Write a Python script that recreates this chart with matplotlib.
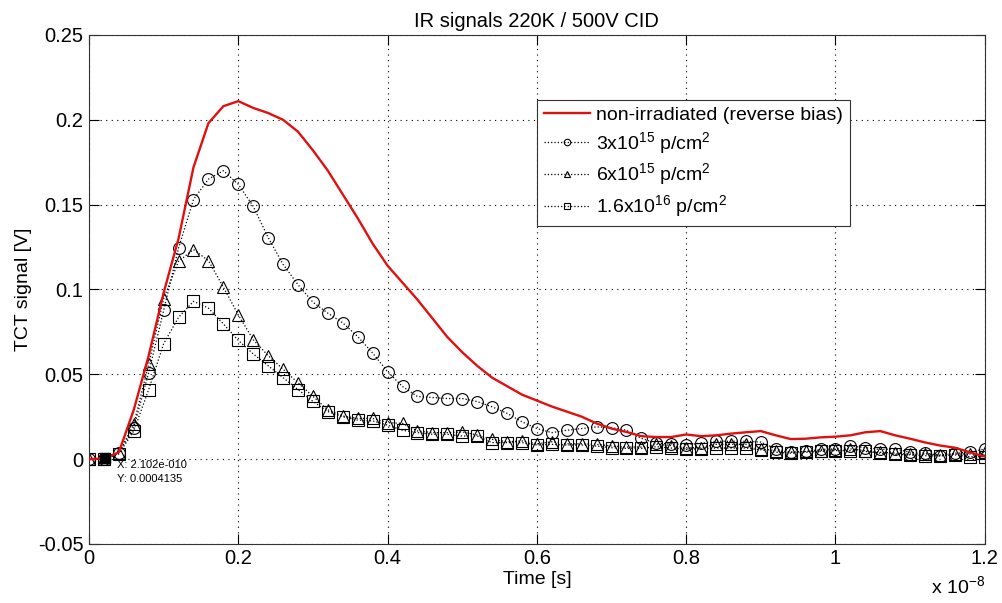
import numpy as np
import matplotlib
matplotlib.use('Agg')
import matplotlib.pyplot as plt

plt.rcParams['font.family'] = ['Liberation Sans', 'DejaVu Sans']
plt.rcParams['mathtext.fontset'] = 'custom'
plt.rcParams['mathtext.rm'] = 'Liberation Sans'
plt.rcParams['mathtext.it'] = 'Liberation Sans'

# time grid in units of 1e-8 s
t = np.linspace(0, 1.2, 61)

non_irr = [0.0, 0.0003, 0.004, 0.029, 0.061, 0.098, 0.130, 0.172, 0.198, 0.208,
           0.211, 0.207, 0.204, 0.200, 0.193, 0.182, 0.170, 0.156, 0.142, 0.127,
           0.114, 0.104, 0.094, 0.083, 0.072, 0.063, 0.055, 0.048, 0.043, 0.038,
           0.0345, 0.031, 0.028, 0.025, 0.021, 0.018, 0.016, 0.0135, 0.013, 0.013,
           0.0145, 0.0135, 0.014, 0.015, 0.0158, 0.0165, 0.014, 0.0118, 0.012, 0.0128,
           0.0132, 0.014, 0.0158, 0.0165, 0.014, 0.012, 0.0098, 0.008, 0.0067, 0.004,
           0.0015]

f3e15 = [0.0, 0.0, 0.0037, 0.0185, 0.051, 0.0876, 0.1244, 0.153, 0.165, 0.170,
         0.162, 0.149, 0.1306, 0.1148, 0.1028, 0.0925, 0.086, 0.0803, 0.0722, 0.0625,
         0.0515, 0.0428, 0.0369, 0.0363, 0.0357, 0.0357, 0.0339, 0.0308, 0.027, 0.022,
         0.018, 0.0156, 0.017, 0.018, 0.019, 0.0185, 0.017, 0.0122, 0.0093, 0.009,
         0.0085, 0.0093, 0.0105, 0.0105, 0.0105, 0.010, 0.006, 0.0041, 0.0045, 0.0057,
         0.006, 0.0077, 0.0067, 0.0057, 0.006, 0.004, 0.0037, 0.002, 0.0035, 0.004,
         0.006]

f6e15 = [0.0, 0.0, 0.0037, 0.0205, 0.056, 0.0945, 0.1166, 0.1235, 0.117, 0.1014,
         0.085, 0.0704, 0.061, 0.053, 0.045, 0.037, 0.029, 0.0254, 0.024, 0.024,
         0.0215, 0.021, 0.0166, 0.0156, 0.0156, 0.016, 0.0142, 0.0116, 0.0102, 0.0107,
         0.009, 0.0102, 0.009, 0.009, 0.0087, 0.0077, 0.0071, 0.0071, 0.0087, 0.008,
         0.0067, 0.0067, 0.0087, 0.0087, 0.0087, 0.006, 0.005, 0.004, 0.0045, 0.005,
         0.0055, 0.006, 0.005, 0.004, 0.0035, 0.003, 0.003, 0.0025, 0.003, 0.003,
         0.004]

f16e16 = [0.0, 0.0, 0.003, 0.0166, 0.041, 0.068, 0.0836, 0.093, 0.089, 0.0797,
          0.070, 0.062, 0.055, 0.048, 0.041, 0.034, 0.028, 0.025, 0.023, 0.0225,
          0.020, 0.017, 0.0156, 0.0146, 0.0146, 0.0136, 0.0136, 0.0097, 0.0097, 0.0097,
          0.0083, 0.0087, 0.0083, 0.0083, 0.0077, 0.0067, 0.0063, 0.0063, 0.0073, 0.0065,
          0.006, 0.006, 0.0065, 0.0065, 0.0065, 0.0055, 0.004, 0.0035, 0.004, 0.0045,
          0.005, 0.005, 0.0045, 0.0035, 0.0028, 0.0025, 0.002, 0.0018, 0.0025, 0.0014,
          0.0014]

labels = ['non-irradiated (reverse bias)',
          r'3x10$^{15}$ p/cm$^{2}$',
          r'6x10$^{15}$ p/cm$^{2}$',
          r'1.6x10$^{16}$ p/cm$^{2}$']

# data cursor point
tip_x, tip_y = 0.02102, 0.0004135

fig = plt.figure(figsize=(10.02, 6.03), dpi=100)
ax = fig.add_axes([0.0888, 0.098, 0.894, 0.844])

ax.plot(t, non_irr, color='#e01010', lw=1.7, label=labels[0], zorder=3)
mk = dict(color='black', ls=':', lw=0.9, mfc='none', mec='black', mew=0.8, ms=8.5)
ax.plot(t, f3e15, marker='o', label=labels[1], **mk)
ax.plot(t, f6e15, marker='^', label=labels[2], **mk)
ax.plot(t, f16e16, marker='s', label=labels[3], **mk)

ax.plot([tip_x], [tip_y], 's', color='black', ms=7, zorder=5)
ax.text(0.038, -0.0005, 'X: 2.102e-010\nY: 0.0004135', fontsize=8,
        va='top', ha='left', linespacing=1.5)

ax.set_xlim(0, 1.2)
ax.set_ylim(-0.05, 0.25)
ax.set_xticks([0, 0.2, 0.4, 0.6, 0.8, 1, 1.2])
ax.set_xticklabels(['0', '0.2', '0.4', '0.6', '0.8', '1', '1.2'])
ax.set_yticks([-0.05, 0, 0.05, 0.1, 0.15, 0.2, 0.25])
ax.set_yticklabels(['-0.05', '0', '0.05', '0.1', '0.15', '0.2', '0.25'])
ax.tick_params(direction='in', length=7, width=0.8, top=True, right=True,
               labelsize=14.5, pad=4)
ax.grid(True, color='black', ls=(0, (1, 4)), lw=0.8)
for s in ax.spines.values():
    s.set_linewidth(0.8)
    s.set_color('#333333')

ax.set_title('IR signals 220K / 500V CID', fontsize=14.5, pad=6)
ax.set_xlabel('Time [s]', fontsize=14, labelpad=2)
ax.set_ylabel('TCT signal [V]', fontsize=14, labelpad=4)
ax.text(1.0, -0.062, r'x 10$^{-8}$', transform=ax.transAxes, ha='right',
        va='top', fontsize=14)

leg = ax.legend(loc='upper left', bbox_to_anchor=(0.5, 0.873), fontsize=14,
                markerscale=0.55, handlelength=2.4, handletextpad=0.3,
                labelspacing=0.3, borderpad=0.35, fancybox=False, framealpha=1,
                borderaxespad=0)
leg.get_frame().set_edgecolor('#333333')
leg.get_frame().set_linewidth(0.8)

fig.savefig('out.png', dpi=100)
